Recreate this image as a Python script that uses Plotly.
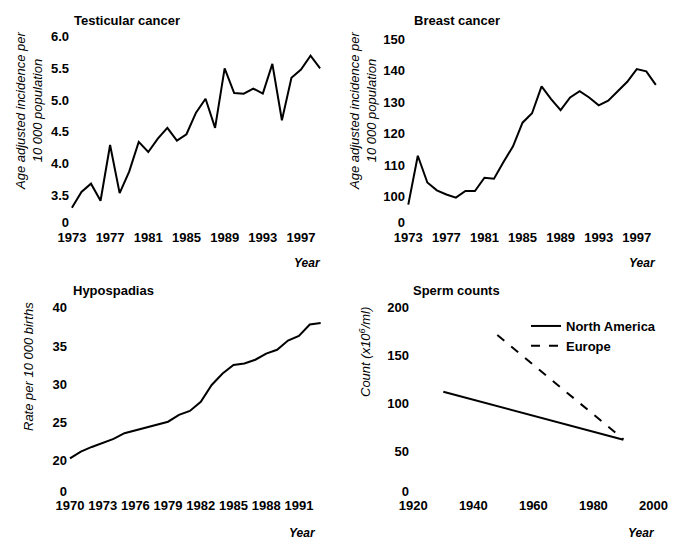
import plotly.graph_objects as go

W, H = 675, 543

# ---------------- data ----------------
testis_years = list(range(1973, 2000))
testis_rate = [3.30, 3.55, 3.68, 3.41, 4.29, 3.53, 3.87, 4.34, 4.18, 4.39, 4.56, 4.36, 4.46,
               4.80, 5.02, 4.56, 5.50, 5.11, 5.10, 5.18, 5.10, 5.57, 4.68, 5.35, 5.48, 5.70, 5.50]

breast_years = list(range(1973, 2000))
breast_rate = [97.5, 113.0, 104.5, 102.0, 100.7, 99.7, 101.8, 101.8, 106.0, 105.7, 111.0, 116.0,
               123.5, 126.5, 135.0, 131.0, 127.5, 131.5, 133.5, 131.5, 129.0, 130.5, 133.5,
               136.5, 140.5, 139.8, 135.5]

hypo_years = list(range(1970, 1994))
hypo_rate = [20.3, 21.2, 21.8, 22.3, 22.85, 23.6, 23.95, 24.4, 24.7, 25.1, 26.0, 26.5, 27.7,
             29.9, 31.4, 32.5, 32.7, 33.2, 34.0, 34.5, 35.7, 36.3, 37.8, 38.0]

na_years = [1930, 1990]
na_count = [112.5, 62.5]
eu_years = [1948, 1990]
eu_count = [171.5, 63.0]

testis_xticks = [1973, 1977, 1981, 1985, 1989, 1993, 1997]
testis_yticks = [3.06, 3.5, 4.0, 4.5, 5.0, 5.5, 6.0]
testis_ylabels = ["0", "3.5", "4.0", "4.5", "5.0", "5.5", "6.0"]

breast_xticks = [1973, 1977, 1981, 1985, 1989, 1993, 1997]
breast_yticks = [91.7, 100, 110, 120, 130, 140, 150]
breast_ylabels = ["0", "100", "110", "120", "130", "140", "150"]

hypo_xticks = [1970, 1973, 1976, 1979, 1982, 1985, 1988, 1991]
hypo_yticks = [15.95, 20, 25, 30, 35, 40]
hypo_ylabels = ["0", "20", "25", "30", "35", "40"]

sperm_xticks = [1920, 1940, 1960, 1980, 2000]
sperm_yticks = [8.3, 50, 100, 150, 200]
sperm_ylabels = ["0", "50", "100", "150", "200"]

FONT = "Liberation Sans, Arial, sans-serif"


def fx(px):
    return px / W


def fy(py):
    return 1 - py / H


fig = go.Figure()
line = dict(color="black", width=2)
fig.add_trace(go.Scatter(x=testis_years, y=testis_rate, mode="lines", line=line,
                         xaxis="x", yaxis="y", showlegend=False))
fig.add_trace(go.Scatter(x=breast_years, y=breast_rate, mode="lines", line=line,
                         xaxis="x2", yaxis="y2", showlegend=False))
fig.add_trace(go.Scatter(x=hypo_years, y=hypo_rate, mode="lines", line=line,
                         xaxis="x3", yaxis="y3", showlegend=False))
fig.add_trace(go.Scatter(x=na_years, y=na_count, mode="lines", line=line, name="North America",
                         xaxis="x4", yaxis="y4", showlegend=True))
fig.add_trace(go.Scatter(x=eu_years, y=eu_count, mode="lines",
                         line=dict(color="black", width=2, dash="dash"), name="Europe",
                         xaxis="x4", yaxis="y4", showlegend=True))

tickfont = dict(family=FONT, size=13, color="black", weight="bold")


def xax(dom, rng, ticks, anchor):
    return dict(domain=[fx(dom[0]), fx(dom[1])], range=rng, tickvals=ticks,
                ticktext=[str(t) for t in ticks], showgrid=False, zeroline=False,
                showline=False, ticks="", tickfont=tickfont, anchor=anchor, fixedrange=True,
                tickangle=0, automargin=False)


def yax(dom, rng, ticks, labels, anchor):
    return dict(domain=[fy(dom[1]), fy(dom[0])], range=rng, tickvals=ticks, ticktext=labels,
                showgrid=False, zeroline=False, showline=False, ticks="", tickfont=tickfont,
                anchor=anchor, fixedrange=True, automargin=False)


fig.update_layout(
    template="none",
    width=W, height=H,
    margin=dict(l=0, r=0, t=0, b=0, pad=0),
    paper_bgcolor="white", plot_bgcolor="white",
    font=dict(family=FONT, color="black"),
    xaxis=xax((70, 322), [1972.8, 1999.2], testis_xticks, "y"),
    yaxis=yax((36, 228), [2.98, 6.01], testis_yticks, testis_ylabels, "x"),
    xaxis2=xax((406, 660), [1972.76, 1999.44], breast_xticks, "y2"),
    yaxis2=yax((37, 228), [90.06, 150.7], breast_yticks, breast_ylabels, "x2"),
    xaxis3=xax((68, 322), [1969.82, 1993.12], hypo_xticks, "y3"),
    yaxis3=yax((306, 496), [15.39, 40.22], hypo_yticks, hypo_ylabels, "x3"),
    xaxis4=xax((410, 660), [1918.9, 2002.2], sperm_xticks, "y4"),
    yaxis4=yax((306, 496), [3.85, 201.8], sperm_yticks, sperm_ylabels, "x4"),
    legend=dict(x=fx(526), y=fy(311), xanchor="left", yanchor="top",
                font=dict(family=FONT, size=13, color="black", weight="bold"),
                bgcolor="rgba(0,0,0,0)", tracegroupgap=0, itemwidth=30),
)

titles = [("Testicular cancer", 72, 20), ("Breast cancer", 412, 20),
          ("Hypospadias", 71, 290), ("Sperm counts", 411, 290)]
for t, x, y in titles:
    fig.add_annotation(text=t, x=fx(x), y=fy(y), xref="paper", yref="paper",
                       xanchor="left", yanchor="middle", showarrow=False,
                       font=dict(family=FONT, size=13, color="black", weight="bold"))

ytitles = [("Age adjusted incidence per<br>10 000 population", 29, 111),
           ("Age adjusted incidence per<br>10 000 population", 363, 111),
           ("Rate per 10 000 births", 28, 367),
           ("Count (x10<sup>6</sup>/ml)", 365, 352)]
for t, x, y in ytitles:
    fig.add_annotation(text=t, x=fx(x), y=fy(y), xref="paper", yref="paper",
                       xanchor="center", yanchor="middle", textangle=-90, showarrow=False,
                       font=dict(family=FONT, size=13, color="black", style="italic"))

years_lbl = [(323, 263), (658, 263), (318, 533), (657, 533)]
for x, y in years_lbl:
    fig.add_annotation(text="Year", x=fx(x), y=fy(y), xref="paper", yref="paper",
                       xanchor="right", yanchor="middle", showarrow=False,
                       font=dict(family=FONT, size=12, color="black", style="italic",
                                 weight="bold"))

fig.write_html("out.html",
               config={"displayModeBar": False},
               post_script="document.body.style.margin='0';"
                           "document.body.style.overflow='hidden';")
